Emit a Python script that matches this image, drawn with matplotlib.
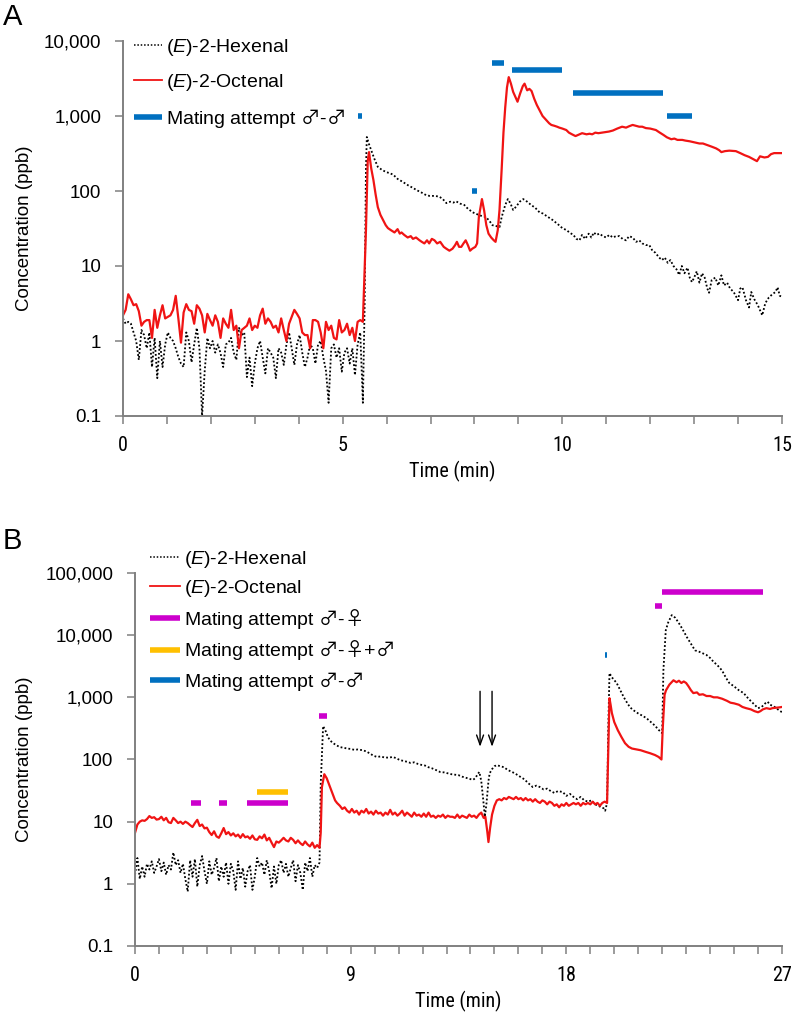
import numpy as np
import matplotlib
matplotlib.use('Agg')
import matplotlib.pyplot as plt
from matplotlib.lines import Line2D
from matplotlib.ticker import FixedLocator, NullLocator, FixedFormatter, MultipleLocator
from matplotlib.font_manager import FontProperties, fontManager

plt.rcParams['font.family'] = ['Liberation Sans', 'DejaVu Sans']
plt.rcParams['mathtext.fontset'] = 'custom'
plt.rcParams['mathtext.rm'] = 'Liberation Sans'
plt.rcParams['mathtext.it'] = 'Liberation Sans:italic'
plt.rcParams['mathtext.sf'] = 'Noto Sans CJK JP'

# ---------------- Panel A data ----------------
# baseline section sampled every 0.06 min from t = 0
octA_base = [2.2, 2.6, 4.2, 3.6, 3.0, 3.1, 2.5, 1.6, 1.8, 1.9, 1.9, 1.1, 2.6, 1.5, 2.2, 3.0,
             2.0, 2.1, 2.2, 2.6, 4.0, 2.0, 0.95, 2.4, 3.1, 2.6, 2.5, 1.7, 3.0, 2.7, 2.2, 1.3,
             2.3, 1.9, 1.6, 2.2, 1.8, 1.1, 2.0, 1.7, 1.5, 2.6, 1.4, 1.6, 0.8, 1.4, 1.5, 1.6,
             2.0, 1.4, 1.6, 1.5, 2.2, 2.7, 1.7, 2.0, 1.8, 1.5, 1.6, 1.3, 2.0, 1.4, 1.0, 1.7,
             2.1, 2.6, 2.3, 2.0, 1.3, 1.2, 1.2, 0.8, 1.9, 1.9, 1.8, 1.3, 0.8, 1.8, 1.4, 1.6,
             1.1, 1.05, 1.9, 1.3, 1.4, 1.7, 1.2, 1.5, 1.0, 1.8, 1.9, 1.8]
hexA_base = [2.0, 1.7, 1.8, 1.7, 1.3, 1.0, 0.56, 1.4, 1.2, 0.8, 1.3, 0.45, 1.1, 0.32, 1.0, 0.45,
             0.9, 1.3, 1.1, 1.0, 0.8, 0.61, 0.5, 0.45, 1.3, 1.0, 0.52, 0.9, 1.5, 0.8, 0.1, 0.4,
             1.1, 0.8, 1.0, 0.7, 0.9, 0.69, 0.45, 0.9, 0.95, 1.1, 0.7, 0.56, 1.5, 1.2, 1.3, 0.33,
             0.6, 0.25, 0.5, 0.8, 1.0, 0.6, 0.37, 0.8, 0.7, 0.6, 0.32, 0.8, 0.7, 0.48, 0.9, 1.3,
             0.8, 0.48, 0.9, 1.2, 0.7, 0.45, 0.6, 0.9, 0.8, 0.5, 0.9, 1.0, 0.6, 0.4, 0.15, 0.8,
             0.9, 0.6, 0.8, 0.39, 0.7, 0.8, 0.5, 0.8, 0.35, 0.9, 1.3, 0.15]
base_step_A = 0.06

octA_t = [5.53, 5.57, 5.60, 5.65, 5.70, 5.75, 5.80, 5.86, 5.92, 5.98, 6.03, 6.10, 6.18, 6.25, 6.30,
          6.34, 6.40, 6.48, 6.55, 6.60, 6.67, 6.75, 6.80, 6.86, 6.92, 6.97, 7.03, 7.09, 7.15, 7.22,
          7.30, 7.36, 7.43, 7.50, 7.56, 7.60, 7.65, 7.70, 7.75, 7.80, 7.85, 7.90, 7.95, 8.02, 8.06,
          8.10, 8.17, 8.22, 8.27, 8.32, 8.38, 8.44, 8.48, 8.53, 8.57, 8.62, 8.66, 8.70, 8.74, 8.78,
          8.83, 8.88, 8.93, 8.98, 9.04, 9.10, 9.14, 9.20, 9.25, 9.30, 9.36, 9.42, 9.48, 9.55, 9.62,
          9.70, 9.75, 9.82, 9.88, 9.93, 10.0, 10.09, 10.15, 10.22, 10.30, 10.36, 10.45, 10.55, 10.62,
          10.68, 10.75, 10.82, 10.90, 10.99, 11.06, 11.15, 11.25, 11.36, 11.45, 11.52, 11.60, 11.67,
          11.75, 11.82, 11.90, 12.0, 12.13, 12.20, 12.30, 12.38, 12.48, 12.55, 12.62, 12.73, 12.80,
          12.90, 13.04, 13.12, 13.20, 13.30, 13.40, 13.50, 13.57, 13.62, 13.70, 13.80, 13.95, 14.05,
          14.15, 14.25, 14.35, 14.43, 14.50, 14.60, 14.68, 14.75, 14.82, 14.90, 15.0]
octA_v = [30, 250, 330, 200, 140, 90, 61, 48, 41, 35, 32, 30, 28, 31, 27,
          28, 26, 24, 25, 23, 24, 22, 21, 20, 22, 20, 23, 22, 20, 21,
          18, 17, 16, 17, 19, 21, 18, 18, 20, 22, 19, 16, 17, 18, 20,
          45, 78, 55, 35, 27, 24, 22, 21, 30, 56, 200, 600, 1300, 2400, 3300,
          2700, 2100, 1800, 1550, 2000, 2500, 2700, 2200, 2300, 2150, 1700, 1400, 1200, 1000, 900,
          800, 760, 740, 720, 700, 680, 650, 600, 570, 540, 560, 590, 570, 580,
          570, 600, 590, 600, 610, 620, 640, 680, 720, 700, 730, 760, 740,
          720, 720, 690, 680, 650, 610, 560, 520, 490, 500, 480, 480, 470,
          460, 440, 430, 430, 410, 390, 370, 350, 330, 340, 345, 340, 320,
          300, 285, 265, 250, 290, 280, 285, 310, 320, 320, 320]

hexA_t = [5.50, 5.53, 5.55, 5.60, 5.65, 5.72, 5.80, 5.90, 6.00, 6.07, 6.15, 6.25, 6.37, 6.50, 6.60,
          6.68, 6.80, 6.90, 6.98, 7.10, 7.20, 7.28, 7.36, 7.45, 7.52, 7.58, 7.67, 7.77, 7.85, 7.96,
          8.02, 8.10, 8.18, 8.26, 8.34, 8.41, 8.50, 8.57, 8.62, 8.70, 8.76, 8.82, 8.88, 8.95, 9.03,
          9.11, 9.20, 9.29, 9.38, 9.48, 9.56, 9.65, 9.78, 9.90, 10.0, 10.1, 10.16, 10.25, 10.32, 10.39,
          10.45, 10.52, 10.60, 10.66, 10.72, 10.77, 10.85, 10.92, 11.0, 11.07, 11.15, 11.22, 11.30,
          11.37, 11.45, 11.52, 11.60, 11.68, 11.75, 11.82, 11.90, 11.98, 12.05, 12.12, 12.20, 12.27,
          12.33, 12.40, 12.46, 12.53, 12.60, 12.66, 12.72, 12.78, 12.85, 12.90, 12.95, 13.0, 13.06,
          13.12, 13.18, 13.24, 13.30, 13.34, 13.40, 13.48, 13.55, 13.62, 13.68, 13.75, 13.82, 13.90,
          14.0, 14.05, 14.10, 14.18, 14.25, 14.30, 14.37, 14.45, 14.55, 14.62, 14.70, 14.78, 14.85,
          14.90, 14.95, 15.0]
hexA_v = [3, 200, 525, 420, 350, 270, 210, 190, 178, 173, 165, 145, 132, 118, 110,
          103, 95, 88, 86, 86, 84, 78, 69, 72, 70, 73, 68, 65, 58, 52,
          50, 48, 46, 45, 40, 35, 34, 33, 45, 65, 78, 68, 56, 62, 72,
          78, 72, 65, 60, 52, 50, 46, 41, 36, 32, 30, 28, 26, 23, 22,
          26, 23, 27, 24, 28, 26, 27, 25, 24, 26, 24, 25, 25,
          23, 22, 25, 24, 21, 22, 20, 19, 19, 16, 15, 13, 12,
          13, 11, 12, 10, 9, 7.6, 10, 8, 9.5, 7, 6.1, 7, 8.5,
          6, 8, 7, 5, 4.4, 6.5, 7, 5.5, 7.5, 5.5, 6, 5, 4.5,
          3.5, 5, 5.2, 3.5, 2.8, 4.5, 3.6, 3, 2.2, 3.2, 3.8, 4.2, 4.5,
          5.2, 4.0, 3.9]

# mating attempts male-male (panel A): start, end, display level
mmA_start = [5.36, 7.95, 8.40, 8.86, 10.25, 12.39]
mmA_end = [5.45, 8.05, 8.68, 10.0, 12.30, 12.95]
mmA_level = [1000, 100, 5100, 4100, 2050, 1000]

# ---------------- Panel B data ----------------
base_step_B = 0.1
octB_base = [6.6, 9, 10, 10.5, 10.3, 11, 12.3, 11.5, 11.8, 10.8, 11, 12, 10.5, 11.5, 9.8, 9.5,
             11.5, 10.5, 9.5, 10, 9.2, 10, 9.5, 8.8, 8.2, 9.5, 10.7, 8.5, 9, 7.8, 8, 6.8,
             6.1, 7, 5.8, 5.5, 6.5, 7.9, 6.3, 6.8, 6, 6.5, 5.8, 6.2, 5.5, 6.3, 5.6, 5.8,
             5.3, 6, 5.2, 5.1, 5.8, 5.4, 6.2, 5, 5.5, 4.6, 3.9, 4.8, 4.6, 5, 5.5, 5,
             4.8, 5.5, 5.1, 4.5, 5, 4.5, 4.2, 4.8, 4.3, 4, 4.6, 3.8, 4.2, 3.8]
hexB_base = [1.4, 2.6, 1.2, 1.9, 1.3, 2.1, 1.7, 2.3, 1.5, 1.9, 2.5, 1.6, 2.2, 1.4, 2.0, 1.7,
             3.2, 2.0, 2.4, 1.5, 2.1, 1.2, 0.75, 2.4, 1.3, 2.5, 0.9, 2.0, 2.8, 1.6, 1.0, 2.3,
             1.4, 1.8, 2.6, 1.1, 1.9, 1.3, 2.2, 1.0, 2.1, 1.6, 0.8, 2.3, 1.2, 1.8, 0.9, 1.6,
             2.0, 0.8, 1.3, 2.6, 1.9, 2.2, 1.4, 2.4, 1.6, 0.85, 1.9, 1.0, 2.0, 2.4, 1.5, 2.1,
             1.3, 1.8, 2.4, 1.1, 2.0, 1.5, 0.8, 2.2, 1.6, 2.6, 1.3, 2.0, 1.8, 2.2]

octB_t = [7.75, 7.80, 7.90, 8.00, 8.14, 8.25, 8.35, 8.43, 8.55, 8.65, 8.75, 8.85, 8.95, 9.05, 9.15,
          9.25, 9.35, 9.45, 9.55, 9.65, 9.75, 9.85, 9.95, 10.05, 10.15, 10.25, 10.35, 10.45, 10.55,
          10.65, 10.75, 10.85, 10.95, 11.05, 11.15, 11.25, 11.35, 11.45, 11.55, 11.65, 11.75, 11.85,
          11.95, 12.05, 12.15, 12.25, 12.35, 12.45, 12.55, 12.65, 12.75, 12.85, 12.95, 13.05, 13.15,
          13.25, 13.35, 13.45, 13.55, 13.65, 13.75, 13.85, 13.95, 14.05, 14.15, 14.25, 14.35, 14.45,
          14.55, 14.62, 14.70, 14.75, 14.82, 14.90, 15.0, 15.1, 15.2, 15.3, 15.4, 15.5, 15.6, 15.7,
          15.8, 15.9, 16.0, 16.1, 16.2, 16.3, 16.4, 16.5, 16.6, 16.7, 16.8, 16.9, 17.0, 17.1, 17.2,
          17.3, 17.4, 17.5, 17.6, 17.7, 17.8, 17.9, 18.0, 18.1, 18.2, 18.3, 18.4, 18.5, 18.6, 18.7,
          18.8, 18.9, 19.0, 19.1, 19.2, 19.3, 19.4, 19.5, 19.6, 19.7, 19.75, 19.8, 19.85, 19.9, 20.0,
          20.15, 20.3, 20.45, 20.6, 20.74, 20.9, 21.1, 21.3, 21.5, 21.7, 21.85, 21.97, 22.02, 22.1,
          22.16, 22.3, 22.47, 22.6, 22.7, 22.8, 22.9, 23.0, 23.1, 23.2, 23.3, 23.45, 23.55, 23.7,
          23.85, 24.0, 24.15, 24.3, 24.5, 24.7, 24.85, 25.0, 25.2, 25.35, 25.5, 25.7, 25.85, 26.0,
          26.1, 26.2, 26.35, 26.5, 26.6, 26.75, 26.9, 27.0]
octB_v = [6.6, 36, 58, 50, 36, 28, 22, 20, 18, 16, 17, 15, 14, 16, 14,
          15, 13, 15, 14, 16, 13.5, 14.5, 13, 15, 13.5, 14, 12.5, 14, 13,
          15.5, 13, 14, 12.5, 13.5, 15, 12.5, 14, 13, 12, 14, 12.5, 13,
          12, 13.5, 12, 14, 12, 12.5, 11.5, 12.5, 12, 13, 11.5, 12.5, 12,
          12, 11.5, 13, 11.5, 12.5, 12, 11.5, 13, 12, 12.5, 11.5, 13, 14,
          11.5, 12, 7, 4.7, 8, 13, 18, 22, 23, 22, 24, 23, 25, 24,
          23, 25, 23, 24, 22, 24, 22, 23, 21, 23, 21, 20, 22, 21, 19,
          21, 20, 18, 19, 17, 19, 18, 20, 18, 19, 20, 19, 20, 18, 20,
          19, 20, 19, 21, 19, 20, 18, 20, 21, 20, 150, 970, 750, 560, 400,
          295, 230, 183, 160, 150, 146, 141, 133, 126, 118, 110, 100, 300, 1100,
          1300, 1600, 1880, 1750, 1850, 1700, 1800, 1700, 1500, 1300, 1170, 1200, 1100, 1120,
          1050, 1050, 1000, 1000, 950, 880, 820, 800, 760, 700, 670, 640, 600, 575,
          600, 640, 670, 650, 670, 680, 690, 700]

hexB_t = [7.75, 7.85, 7.95, 8.05, 8.13, 8.25, 8.40, 8.55, 8.70, 8.85, 9.0, 9.15, 9.3, 9.5, 9.65,
          9.8, 9.95, 10.1, 10.25, 10.4, 10.6, 10.75, 10.9, 11.05, 11.2, 11.35, 11.5, 11.65, 11.8,
          11.95, 12.1, 12.25, 12.4, 12.55, 12.73, 12.9, 13.05, 13.2, 13.35, 13.5, 13.65, 13.8, 13.95,
          14.1, 14.2, 14.3, 14.37, 14.45, 14.52, 14.6, 14.67, 14.75, 14.8, 14.9, 15.0, 15.1, 15.25,
          15.4, 15.55, 15.7, 15.85, 16.0, 16.1, 16.25, 16.4, 16.6, 16.75, 16.9, 17.05, 17.2, 17.35,
          17.5, 17.65, 17.85, 18.0, 18.15, 18.3, 18.45, 18.6, 18.75, 18.9, 19.05, 19.2, 19.35, 19.45,
          19.55, 19.62, 19.7, 19.75, 19.8, 19.9, 20.1, 20.25, 20.4, 20.55, 20.66, 20.8, 21.0, 21.2,
          21.35, 21.5, 21.7, 21.85, 22.0, 22.05, 22.15, 22.25, 22.4, 22.55, 22.75, 22.9, 23.03, 23.2,
          23.37, 23.55, 23.7, 23.85, 24.0, 24.15, 24.3, 24.5, 24.65, 24.8, 25.0, 25.2, 25.4, 25.6,
          25.8, 26.0, 26.15, 26.3, 26.4, 26.5, 26.65, 26.8, 27.0]
hexB_v = [40, 345, 290, 230, 205, 185, 170, 158, 155, 150, 148, 143, 145, 141, 135,
          125, 115, 110, 112, 108, 107, 110, 105, 98, 95, 92, 88, 90, 85,
          82, 80, 75, 72, 68, 63, 62, 60, 58, 57, 56, 53, 51, 49,
          47, 50, 58, 63, 45, 25, 12, 20, 45, 60, 70, 78, 81, 78,
          75, 68, 64, 60, 55, 52, 48, 42, 36, 38, 36, 33, 34, 31,
          29, 31, 30, 26, 28, 25, 23, 25, 22, 21, 22, 19, 18, 17,
          16.5, 15, 20, 300, 2450, 2100, 1700, 1300, 1000, 800, 690, 620, 550, 500,
          460, 410, 350, 300, 265, 2700, 12000, 16000, 21000, 19000, 14500, 11500, 9300, 7300,
          5700, 5400, 5100, 4800, 4300, 3700, 3300, 2700, 2100, 1700, 1500, 1300, 1170, 950,
          800, 670, 700, 800, 850, 760, 720, 650, 575]

# mating attempts panel B: start, end, display level
mfB_start = [2.33, 3.50, 4.67, 7.68, 21.70, 22.00]
mfB_end = [2.75, 3.83, 6.38, 8.01, 22.00, 26.20]
mfB_level = [20, 20, 20, 500, 29000, 50000]
mfmB_start = [5.08]
mfmB_end = [6.38]
mfmB_level = [30]
mmB_start = [19.62]
mmB_end = [19.70]
mmB_level = [4800]
arrow_t = [14.4, 14.9]

# ---------------- styles ----------------
RED = '#f01414'
BLUE = '#0070c0'
MAG = '#cc00cc'
YEL = '#ffc000'
GREY = '#808080'
FS = 13.5
FS_LEG = 14

_names = {f.name for f in fontManager.ttflist}
NARROW = [n for n in ['Liberation Sans Narrow', 'Roboto Condensed', 'Open Sans Condensed']
          if n in _names] + ['Liberation Sans']

def make_series(base, step, t_rest, v_rest):
    t0 = np.arange(len(base)) * step
    return np.concatenate([t0, t_rest]), np.concatenate([base, v_rest])

W, H = 796, 1018
fig = plt.figure(figsize=(W / 100, H / 100), dpi=100)

def style_axes(ax, xmax, major, ymax, ylabels):
    ax.set_yscale('log')
    ax.set_xlim(0, xmax)
    ax.set_ylim(0.1, ymax)
    for s in ['top', 'right']:
        ax.spines[s].set_visible(False)
    for s in ['left', 'bottom']:
        ax.spines[s].set_color(GREY)
        ax.spines[s].set_linewidth(1.4)
    yt = [10.0 ** k for k in range(-1, len(ylabels) - 1)]
    ax.yaxis.set_major_locator(FixedLocator(yt))
    ax.yaxis.set_major_formatter(FixedFormatter(ylabels))
    ax.yaxis.set_minor_locator(NullLocator())
    ax.xaxis.set_major_locator(MultipleLocator(major))
    ax.xaxis.set_minor_locator(MultipleLocator(1))
    ax.tick_params(axis='both', which='both', direction='out', length=5.5, width=1.1,
                   color=GREY)
    ax.tick_params(axis='y', labelsize=FS, pad=10)
    ax.tick_params(axis='x', which='major', labelsize=14.5, pad=9)
    for lab in ax.get_xticklabels():
        lab.set_family(NARROW)

# ---------- Panel A ----------
axA = fig.add_axes([123 / W, 1 - 416 / H, (782 - 123) / W, (416 - 41) / H])
tA_h, vA_h = make_series(hexA_base, base_step_A, hexA_t, hexA_v)
tA_o, vA_o = make_series(octA_base, base_step_A, octA_t, octA_v)
axA.plot(tA_h, vA_h, color='black', lw=1.3, ls=(0, (1, 1.2)))
axA.plot(tA_o, vA_o, color=RED, lw=1.6)
axA.hlines(mmA_level, mmA_start, mmA_end, color=BLUE, lw=4)
style_axes(axA, 15, 5, 10000, ['0.1', '1', '10', '100', '1,000', '10,000'])
fig.text((123 + 782) / 2 / W, 1 - 471 / H, 'Time (min)', fontsize=14.5, family=NARROW,
         ha='center', va='center')

# ---------- Panel B ----------
axB = fig.add_axes([135 / W, 1 - 946 / H, (782 - 135) / W, (946 - 573) / H])
tB_h, vB_h = make_series(hexB_base, base_step_B, hexB_t, hexB_v)
tB_o, vB_o = make_series(octB_base, base_step_B, octB_t, octB_v)
axB.plot(tB_h, vB_h, color='black', lw=1.3, ls=(0, (1, 1.2)))
axB.plot(tB_o, vB_o, color=RED, lw=1.6)
axB.hlines(mfB_level, mfB_start, mfB_end, color=MAG, lw=4)
axB.hlines(mfmB_level, mfmB_start, mfmB_end, color=YEL, lw=4)
axB.hlines(mmB_level, mmB_start, mmB_end, color=BLUE, lw=4)
for ta in arrow_t:
    axB.annotate('', xy=(ta, 160), xytext=(ta, 1250),
                 arrowprops=dict(arrowstyle='->,head_width=0.25,head_length=0.7',
                                 lw=1.0, color='black', shrinkA=0, shrinkB=0))
style_axes(axB, 27, 9, 100000, ['0.1', '1', '10', '100', '1,000', '10,000', '100,000'])
fig.text((135 + 782) / 2 / W, 1 - 1001 / H, 'Time (min)', fontsize=14.5, family=NARROW,
         ha='center', va='center')

# y labels and panel letters
for ax in (axA, axB):
    bb = ax.get_position()
    fig.text(25 / W, (bb.y0 + bb.y1) / 2, 'Concentration (ppb)', rotation=90,
             ha='center', va='center', fontsize=FS)
fig.text(3 / W, 1 - 17 / H, 'A', fontsize=21, ha='left', va='center')
fig.text(3 / W, 1 - 541 / H, 'B', fontsize=21, ha='left', va='center')

# legends
MALE = '$\\mathsf{\u2642}$'
FEMALE = '$\\mathsf{\u2640}$'
prop = FontProperties(family=['Liberation Sans', 'DejaVu Sans'], size=FS_LEG)
hexl = Line2D([], [], color='black', lw=1.1, ls=(0, (1, 1.2)))
octl = Line2D([], [], color=RED, lw=1.3)
mm = Line2D([], [], color=BLUE, lw=4, solid_capstyle='butt')
mf = Line2D([], [], color=MAG, lw=4, solid_capstyle='butt')
mfm = Line2D([], [], color=YEL, lw=4, solid_capstyle='butt')
lab_h = r'($\mathit{E}$)-2-Hexenal'
lab_o = r'($\mathit{E}$)-2-Octenal'
lab_mm = 'Mating attempt ' + MALE + '-' + MALE
lab_mf = 'Mating attempt ' + MALE + '-' + FEMALE
lab_mfm = 'Mating attempt ' + MALE + '-' + FEMALE + '+' + MALE
legA = axA.legend([hexl, octl, mm], [lab_h, lab_o, lab_mm],
                  loc='upper left', bbox_to_anchor=(134 / W, 1 - 37 / H),
                  bbox_transform=fig.transFigure, frameon=False, prop=prop,
                  handlelength=1.45, handletextpad=0.2, labelspacing=0.72,
                  borderpad=0, borderaxespad=0)
legB = axB.legend([hexl, octl, mf, mfm, mm],
                  [lab_h, lab_o, lab_mf, lab_mfm, lab_mm],
                  loc='upper left', bbox_to_anchor=(150 / W, 1 - 549 / H),
                  bbox_transform=fig.transFigure, frameon=False, prop=prop,
                  handlelength=1.55, handletextpad=0.2, labelspacing=0.40,
                  borderpad=0, borderaxespad=0)

fig.savefig('out.png', dpi=100)
